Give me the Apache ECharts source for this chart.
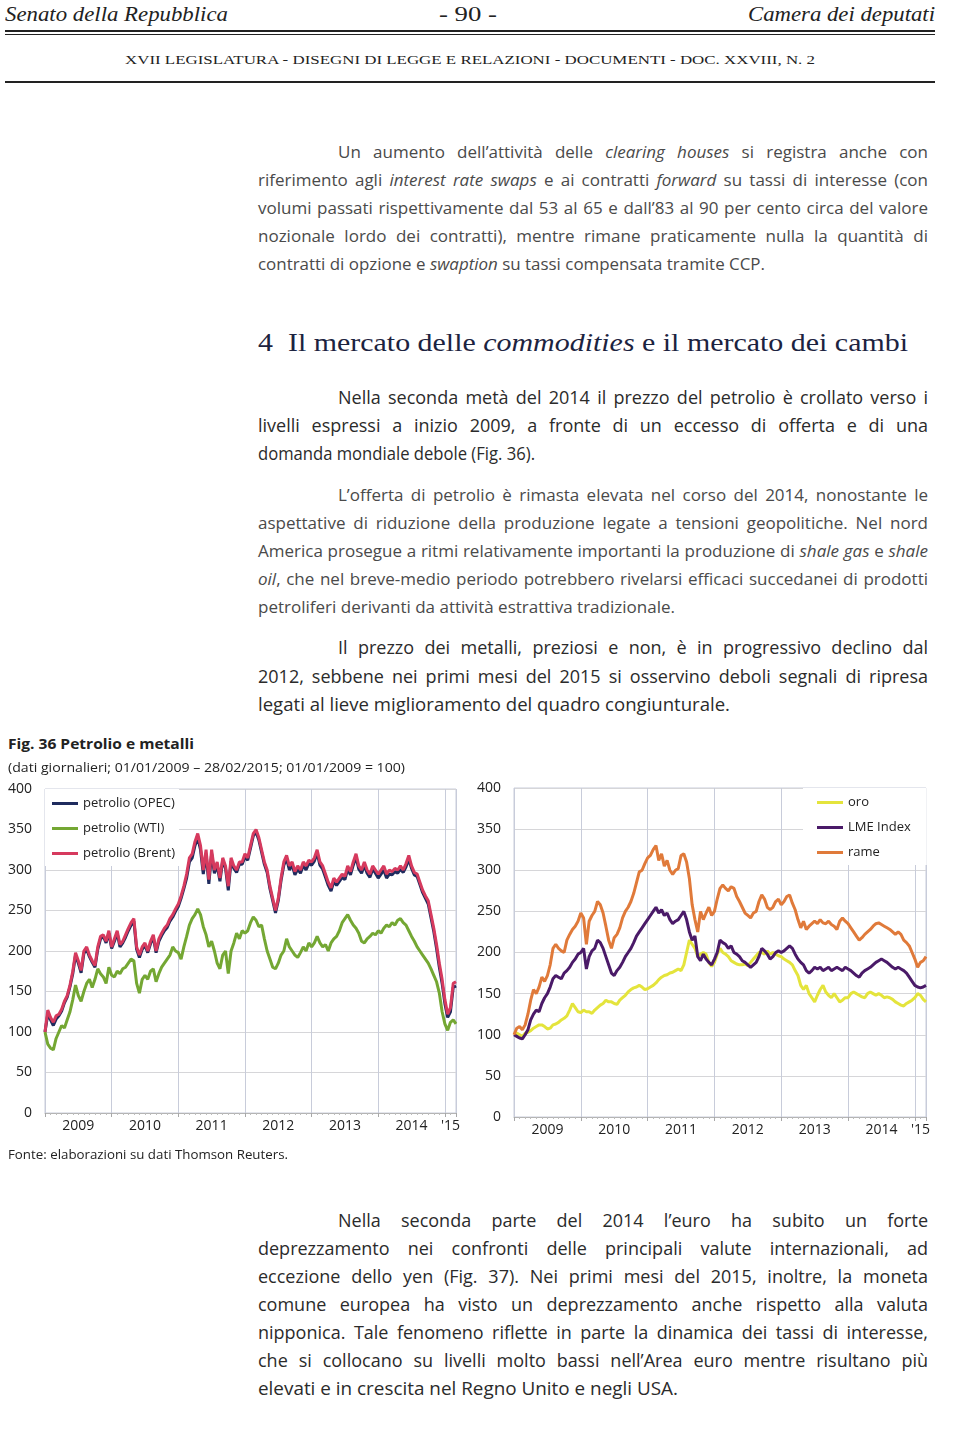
<!DOCTYPE html>
<html><head><meta charset="utf-8">
<script src="https://cdn.jsdelivr.net/npm/echarts@6/dist/echarts.min.js"></script>
<style>
html,body{margin:0;padding:0;background:#fff;}
body{width:960px;height:1451px;position:relative;overflow:hidden;}
.t{position:absolute;white-space:nowrap;display:inline-block;transform-origin:left center;}
.serif{font-family:'Liberation Serif','DejaVu Serif',serif;}
.sans{font-family:'Liberation Sans Narrow','Open Sans',sans-serif;}
.os{font-family:'Open Sans','Noto Sans',sans-serif;}
.it{font-style:italic;}
.rule{position:absolute;background:#222;}
#chart{position:absolute;left:0;top:770px;width:960px;height:390px;}
</style></head><body>
<div class="rule" style="left:5px;top:30px;width:930px;height:2px"></div>
<div class="rule" style="left:5px;top:33.5px;width:930px;height:1px"></div>
<div class="rule" style="left:5px;top:81px;width:930px;height:2px"></div>
<div id="chart"></div>
<script>
// ---------- data ----------
const years = ['2009','2010','2011','2012','2013','2014',"'15"];
const startYear = 2009;            // 01/01/2009 = 100
const endYear = 2015 + 2/12;       // 28/02/2015
const perYear = 24;                // semi-monthly readings

const oilNames = ['petrolio (OPEC)','petrolio (WTI)','petrolio (Brent)'];
const metalNames = ['oro','LME Index','rame'];

const opec = [100,122,115,108,116,120,126,136,143,156,172,195,185,173,197,202,193,186,180,202,215,218,210,222,
203,212,222,205,210,217,225,232,237,202,192,202,207,198,209,217,198,212,219,225,229,237,242,249,
255,265,277,290,310,315,330,340,325,295,320,283,320,296,306,286,312,302,275,311,302,297,307,307,
316,312,327,342,347,337,322,307,297,277,262,247,262,287,306,314,300,306,294,301,296,306,300,308,
306,311,321,306,301,291,281,274,286,281,286,291,288,301,294,306,316,301,296,306,296,291,301,296,
290,295,300,290,295,294,298,296,301,297,304,313,302,294,292,282,272,265,258,241,224,203,180,160,135,118,125,155,157];

const wti = [100,85,80,78,92,100,108,105,115,125,140,158,145,138,150,160,165,155,165,178,172,168,160,180,
170,168,175,172,178,180,185,190,188,160,148,165,170,165,175,178,162,172,180,185,190,195,205,200,
198,190,205,218,232,240,245,252,245,230,220,205,212,200,185,178,195,200,172,200,210,222,215,225,
222,225,235,242,238,230,232,215,200,190,180,178,185,195,200,215,205,200,195,192,198,205,200,210,
205,210,218,210,205,208,200,210,215,218,225,235,240,245,238,232,228,222,212,210,215,218,222,220,
225,222,228,232,230,235,232,238,240,235,232,225,218,212,205,200,195,190,185,178,170,162,148,125,110,102,112,115,110];

const brent = [100,127,118,112,120,122,128,138,145,158,175,198,188,176,200,205,195,188,182,205,218,220,212,225,
205,215,225,208,212,220,228,235,240,205,195,205,210,200,212,220,200,215,222,228,232,240,245,252,
258,268,280,295,315,320,335,345,330,300,325,288,325,300,310,290,315,305,280,315,305,300,310,310,
320,315,330,345,350,340,325,310,300,280,265,250,265,290,310,318,305,310,298,305,300,310,305,312,
310,315,325,310,305,295,285,278,290,285,290,295,292,305,298,310,320,305,300,310,300,295,305,300,
295,300,305,295,300,298,302,300,305,300,308,318,305,297,295,285,275,268,262,245,228,208,185,165,140,122,130,160,162];

const oro = [100,102,100,98,102,103,105,108,110,112,112,110,107,108,112,113,115,118,120,123,130,138,133,128,
127,130,128,128,126,130,133,136,138,142,140,140,138,137,142,145,148,152,155,157,158,160,158,155,
156,158,160,163,167,170,172,173,175,176,178,180,178,185,200,215,210,205,195,198,200,198,188,183,
188,198,205,200,198,195,190,188,186,185,185,186,184,188,192,196,200,200,198,202,198,200,198,196,
195,192,190,188,185,178,172,160,155,160,150,145,140,148,155,160,152,148,145,150,145,140,142,145,
145,150,152,150,148,146,145,150,152,150,148,150,148,145,146,145,143,140,138,136,135,138,140,142,145,150,148,143,140];

const lme = [100,98,96,95,100,106,118,125,130,128,138,145,150,158,168,172,170,168,175,178,182,188,192,198,
200,205,180,195,202,205,215,212,205,195,185,175,172,178,182,188,195,200,205,212,220,225,230,235,
240,245,250,255,248,252,245,248,240,235,238,240,245,250,240,225,215,220,195,190,198,192,188,185,
192,200,215,212,210,205,208,200,198,195,190,188,185,182,185,188,195,205,202,198,192,195,200,202,
200,202,205,208,205,198,192,188,185,178,175,178,182,180,182,178,180,182,178,180,182,180,178,182,
180,178,175,172,170,175,178,180,182,185,188,190,192,190,188,185,182,180,182,180,178,175,170,165,160,158,157,158,160];

const rame = [100,108,110,106,112,125,142,155,150,158,170,165,172,185,205,210,205,202,200,215,222,228,232,238,
248,242,210,238,245,250,262,258,248,232,215,205,218,222,230,242,250,255,262,272,285,298,300,308,
315,318,325,330,312,320,305,312,300,295,300,302,318,320,310,290,258,240,225,250,240,248,255,245,
250,265,278,282,278,275,280,278,268,262,255,248,245,242,248,250,262,270,265,255,252,255,262,265,
258,262,268,270,260,252,240,230,238,228,232,235,238,235,240,236,235,238,234,232,228,238,242,238,
235,230,225,220,215,218,222,225,228,232,235,236,234,232,230,228,225,222,225,222,215,212,208,200,192,182,188,190,195];

// ---------- text ----------
const P1 = '#4a4a4a', P2 = '#2b2b2b';
const lines = [
 [5,14,223,21,'serif it','#222',0,'Senato della Repubblica'],
 [439,14,58,21,'serif','#222',0,'- 90 -'],
 [748,14,187,21,'serif it','#222',0,'Camera dei deputati'],
 [125,60,690,13,'serif','#222',0,'XVII LEGISLATURA - DISEGNI DI LEGGE E RELAZIONI - DOCUMENTI - DOC. XXVIII, N. 2'],
 [338,151,590,17,'sans',P1,1,'Un aumento dell’attività delle <i>clearing houses</i> si registra anche con'],
 [258,179,670,17,'sans',P1,1,'riferimento agli <i>interest rate swaps</i> e ai contratti <i>forward</i> su tassi di interesse (con'],
 [258,207,670,17,'sans',P1,1,'volumi passati rispettivamente dal 53 al 65 e dall’83 al 90 per cento circa del valore'],
 [258,235,670,17,'sans',P1,1,'nozionale lordo dei contratti), mentre rimane praticamente nulla la quantità di'],
 [258,263,507,17,'sans',P1,0,'contratti di opzione e <i>swaption</i> su tassi compensata tramite CCP.'],
 [258,342,650,26,'serif','#1c2340',0,'4&nbsp;&nbsp;Il mercato delle <i>commodities</i> e il mercato dei cambi'],
 [338,397,590,18,'sans',P2,1,'Nella seconda metà del 2014 il prezzo del petrolio è crollato verso i'],
 [258,425,670,18,'sans',P2,1,'livelli espressi a inizio 2009, a fronte di un eccesso di offerta e di una'],
 [258,453,277,18,'sans',P2,0,'domanda mondiale debole (Fig. 36).'],
 [338,494,590,17,'sans',P1,1,'L’offerta di petrolio è rimasta elevata nel corso del 2014, nonostante le'],
 [258,522,670,17,'sans',P1,1,'aspettative di riduzione della produzione legate a tensioni geopolitiche. Nel nord'],
 [258,550,670,17,'sans',P1,1,'America prosegue a ritmi relativamente importanti la produzione di <i>shale gas</i> e <i>shale</i>'],
 [258,578,670,17,'sans',P1,1,'<i>oil</i>, che nel breve-medio periodo potrebbero rivelarsi efficaci succedanei di prodotti'],
 [258,606,417,17,'sans',P1,0,'petroliferi derivanti da attività estrattiva tradizionale.'],
 [338,647,590,18,'sans',P2,1,'Il prezzo dei metalli, preziosi e non, è in progressivo declino dal'],
 [258,676,670,18,'sans',P2,1,'2012, sebbene nei primi mesi del 2015 si osservino deboli segnali di ripresa'],
 [258,704,472,18,'sans',P2,0,'legati al lieve miglioramento del quadro congiunturale.'],
 [8,743,186,15,'os','#222',0,'<b>Fig. 36 Petrolio e metalli</b>'],
 [8,767,397,13,'os','#222',0,'(dati giornalieri; 01/01/2009 – 28/02/2015; 01/01/2009 = 100)'],
 [8,1154,280,13,'os','#222',0,'Fonte: elaborazioni su dati Thomson Reuters.'],
 [338,1220,590,18,'sans',P2,1,'Nella seconda parte del 2014 l’euro ha subito un forte'],
 [258,1248,670,18,'sans',P2,1,'deprezzamento nei confronti delle principali valute internazionali, ad'],
 [258,1276,670,18,'sans',P2,1,'eccezione dello yen (Fig. 37). Nei primi mesi del 2015, inoltre, la moneta'],
 [258,1304,670,18,'sans',P2,1,'comune europea ha visto un deprezzamento anche rispetto alla valuta'],
 [258,1332,670,18,'sans',P2,1,'nipponica. Tale fenomeno riflette in parte la dinamica dei tassi di interesse,'],
 [258,1360,670,18,'sans',P2,1,'che si collocano su livelli molto bassi nell’Area euro mentre risultano più'],
 [258,1388,420,18,'sans',P2,0,'elevati e in crescita nel Regno Unito e negli USA.']
];
lines.forEach(([x,cy,w,fs,cls,col,just,html])=>{
  const d=document.createElement('div');
  d.className='t '+cls;
  const lh=Math.round(fs*1.25);
  d.style.cssText+=`left:${x}px;top:${cy-lh/2}px;font-size:${fs}px;line-height:${lh}px;color:${col};`;
  d.innerHTML=html;
  document.body.appendChild(d);
  const nat=d.getBoundingClientRect().width;
  if(just && nat<w){
    const n=(d.textContent.match(/ /g)||[]).length||1;
    d.style.wordSpacing=((w-nat)/n)+'px';
  } else {
    d.style.transform=`scaleX(${w/nat})`;
  }
});

// ---------- chart ----------
const FF = "'Open Sans','Noto Sans',sans-serif";
const toPairs = arr => arr.map((v,i)=>[startYear+i/perYear, v]);
const labelPos = years.map((_,k)=> k<6 ? startYear+k+0.5 : (2015+endYear)/2);

function xAx(gi){
  return {type:'value', gridIndex:gi, min:startYear, max:endYear, interval:1,
    axisLine:{show:true,lineStyle:{color:'#b4b4b4',width:1}},
    axisTick:{show:true,length:4,lineStyle:{color:'#a8a8a8'}},
    minorTick:{show:true,splitNumber:12,length:2,lineStyle:{color:'#bcbcbc'}},
    splitLine:{show:true,lineStyle:{color:'#c8ccda',width:1}},
    axisLabel:{customValues:labelPos, formatter:v=>years[Math.min(6,Math.floor(v-startYear))],
      color:'#222',fontSize:14,margin:6,fontFamily:FF}};
}
function yAx(gi){
  return {type:'value', gridIndex:gi, min:0, max:400, interval:50,
    axisLine:{show:false}, axisTick:{show:false},
    splitLine:{show:true,lineStyle:{color:'#d6d6d9',width:1}},
    axisLabel:{color:'#222',fontSize:14,margin:13,fontFamily:FF}};
}
function ser(name,data,color,gi){
  return {type:'line',name,data:toPairs(data),xAxisIndex:gi,yAxisIndex:gi,
    showSymbol:false,symbol:'none',color,lineStyle:{width:3,color},silent:true};
}
const chart = echarts.init(document.getElementById('chart'),null,{renderer:'canvas'});
chart.setOption({
  animation:false,
  grid:[
    {left:45,top:19,width:411,height:324,show:true,borderColor:'#c8ccda',borderWidth:1},
    {left:514,top:18,width:412,height:329,show:true,borderColor:'#c8ccda',borderWidth:1}
  ],
  xAxis:[xAx(0),xAx(1)],
  yAxis:[yAx(0),yAx(1)],
  legend:[
    {left:45,top:19,orient:'vertical',backgroundColor:'#fff',padding:[7,4,5,7],
     itemWidth:26,itemHeight:3,itemGap:10,icon:'rect',data:oilNames,
     textStyle:{fontSize:13,lineHeight:15,color:'#222',fontFamily:FF}},
    {left:803,top:18,orient:'vertical',backgroundColor:'#fff',padding:[7,16,5,14],
     itemWidth:26,itemHeight:3,itemGap:10,icon:'rect',data:metalNames,
     textStyle:{fontSize:13,lineHeight:15,color:'#222',fontFamily:FF}}
  ],
  series:[
    ser(oilNames[0],opec,'#1f2b5e',0),
    ser(oilNames[1],wti,'#74a733',0),
    ser(oilNames[2],brent,'#d63a5e',0),
    ser(metalNames[0],oro,'#e4e43c',1),
    ser(metalNames[1],lme,'#4a1a68',1),
    ser(metalNames[2],rame,'#e07a3a',1)
  ]
});
</script>
</body></html>
